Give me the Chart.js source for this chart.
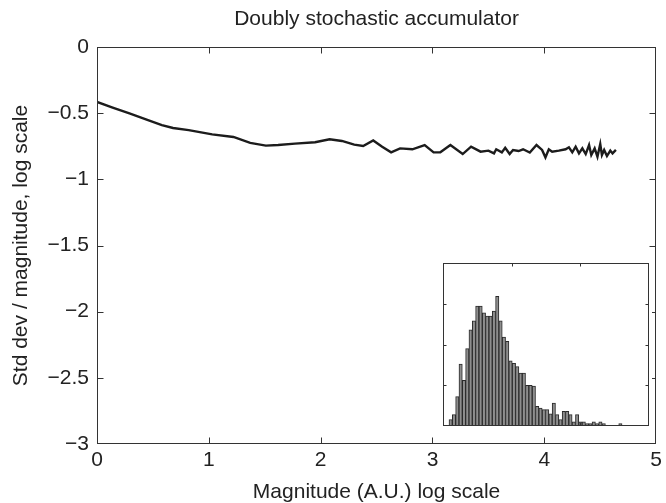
<!DOCTYPE html>
<html>
<head>
<meta charset="utf-8">
<script src="https://cdn.jsdelivr.net/npm/chart.js@4.4.0/dist/chart.umd.min.js"></script>
<style>
  html, body { margin: 0; padding: 0; background: #fff; }
  #wrap  { position: relative; width: 666px; height: 503px; }
  #main  { position: absolute; left: 0; top: 0; }
  #inset { position: absolute; left: 440px; top: 260px; background: #fff; }
</style>
</head>
<body>
<div id="wrap">
  <canvas id="main" width="666" height="503"></canvas>
  <canvas id="inset" width="212" height="169"></canvas>
</div>
<script>
// ═══════════════════════════════════════
//  DONNÉES
// ═══════════════════════════════════════

const magX = [0, 0.14, 0.29, 0.45, 0.58, 0.68, 0.82, 1.03, 1.22, 1.37, 1.51, 1.62, 1.77, 1.95,
  2.08, 2.19, 2.30, 2.38, 2.47, 2.55, 2.63, 2.71, 2.82, 2.93, 3.01, 3.07, 3.16, 3.27, 3.345,
  3.43, 3.50, 3.55, 3.57, 3.62, 3.65, 3.69, 3.72, 3.77, 3.81, 3.87, 3.93, 3.98, 4.01, 4.04,
  4.07, 4.13, 4.19, 4.22, 4.25, 4.28, 4.31, 4.34, 4.37, 4.40, 4.42, 4.45, 4.475, 4.50, 4.515,
  4.535, 4.56, 4.59, 4.61, 4.64];

const stdDev = [-0.415, -0.458, -0.501, -0.55, -0.59, -0.612, -0.628, -0.66, -0.68, -0.725,
  -0.745, -0.741, -0.73, -0.72, -0.697, -0.71, -0.738, -0.748, -0.706, -0.753, -0.796, -0.766,
  -0.773, -0.741, -0.796, -0.796, -0.741, -0.809, -0.753, -0.791, -0.783, -0.804, -0.773,
  -0.796, -0.761, -0.809, -0.778, -0.786, -0.773, -0.798, -0.741, -0.778, -0.834, -0.773,
  -0.791, -0.783, -0.773, -0.758, -0.796, -0.753, -0.804, -0.766, -0.809, -0.741, -0.816,
  -0.766, -0.829, -0.733, -0.816, -0.778, -0.824, -0.783, -0.804, -0.778];

// histogramme de l'encart (comptes par classe)
const histCounts = [8, 14, 36, 76, 56, 95, 118, 129, 147, 147, 139, 135, 135, 141, 159, 129,
  109, 104, 80, 77, 73, 65, 65, 50, 50, 49, 24, 22, 20, 20, 15, 28, 14, 8, 18, 18, 14, 5, 14,
  5, 5, 3, 3, 5, 3, 5, 3, 0, 0, 0, 0, 3];
const histFirstBin = 1.8;      // bord gauche de la première classe
const insetXMax    = 61.9;
const insetYMax    = 200;
const insetXTicks  = [20.6, 41.3];
const insetYTicks  = [50, 100, 150];

const FONT  = "'Liberation Sans', Arial, sans-serif";
const INK   = '#222';
const FRAME = '#333';

// ═══════════════════════════════════════
//  CADRE + GRADUATIONS INTÉRIEURES
// ═══════════════════════════════════════

const frameTicks = {
  id: 'frameTicks',
  afterDraw(chart, args, opts) {
    const { ctx, chartArea: a, scales } = chart;
    const L = Math.round(a.left) + 0.5, R = Math.round(a.right) - 0.5;
    const T = Math.round(a.top) + 0.5,  B = Math.round(a.bottom) - 0.5;
    const xs = opts.xTicks || scales.x.ticks.map(t => t.value);
    const ys = opts.yTicks || scales.y.ticks.map(t => t.value);
    const len = opts.len;

    ctx.save();
    ctx.strokeStyle = opts.color;
    ctx.lineWidth = 1;
    ctx.strokeRect(L, T, R - L, B - T);
    ctx.beginPath();
    xs.forEach(v => {
      if (v <= scales.x.min || v >= scales.x.max) return;
      const px = Math.round(scales.x.getPixelForValue(v)) + 0.5;
      ctx.moveTo(px, B); ctx.lineTo(px, B - len);
      ctx.moveTo(px, T); ctx.lineTo(px, T + len);
    });
    ys.forEach(v => {
      if (v <= scales.y.min || v >= scales.y.max) return;
      const py = Math.round(scales.y.getPixelForValue(v)) + 0.5;
      ctx.moveTo(L, py); ctx.lineTo(L + len, py);
      ctx.moveTo(R, py); ctx.lineTo(R - len, py);
    });
    ctx.stroke();
    ctx.restore();
  }
};

const minus = v => (v < 0 ? '\u2212' : '') + Math.abs(v);

// ═══════════════════════════════════════
//  GRAPHE PRINCIPAL
// ═══════════════════════════════════════

new Chart(document.getElementById('main'), {
  type: 'line',
  data: {
    datasets: [{
      data: magX.map((x, i) => ({ x, y: stdDev[i] })),
      borderColor: '#1c1c1c',
      borderWidth: 2.4,
      pointRadius: 0,
      tension: 0,
      fill: false
    }]
  },
  options: {
    responsive: false,
    animation: false,
    devicePixelRatio: 1,
    layout: { padding: { left: 0, right: 6, top: 0, bottom: 0 } },
    plugins: {
      legend:  { display: false },
      tooltip: { enabled: false },
      title: {
        display: true,
        fullSize: false,
        text: 'Doubly stochastic accumulator',
        color: INK,
        font: { family: FONT, size: 21, weight: 'normal', lineHeight: 1.2 },
        padding: { top: 6.8, bottom: 15 }
      },
      frameTicks: { color: FRAME, len: 6 }
    },
    scales: {
      x: {
        type: 'linear',
        min: 0, max: 5,
        ticks: { stepSize: 1, padding: 4, autoSkip: false, maxRotation: 0,
                 color: INK, font: { family: FONT, size: 21 }, callback: minus },
        grid:   { display: false, drawTicks: false },
        border: { display: false },
        title: {
          display: true, text: 'Magnitude (A.U.) log scale', color: INK,
          font: { family: FONT, size: 21, lineHeight: 1 }, padding: { top: 0, bottom: 0.3 }
        },
        afterFit(s) { s.height = 59; }
      },
      y: {
        min: -3, max: 0,
        ticks: { stepSize: 0.5, padding: 8, autoSkip: false,
                 color: INK, font: { family: FONT, size: 21 }, callback: minus },
        grid:   { display: false, drawTicks: false },
        border: { display: false },
        title: {
          display: true, text: 'Std dev / magnitude, log scale', color: INK,
          font: { family: FONT, size: 21, lineHeight: 1.2 }, padding: { top: 9, bottom: 0 }
        },
        afterFit(s) { s.width = 97; }
      }
    }
  },
  plugins: [frameTicks]
});

// ═══════════════════════════════════════
//  ENCART — HISTOGRAMME
// ═══════════════════════════════════════

new Chart(document.getElementById('inset'), {
  type: 'bar',
  data: {
    datasets: [{
      data: histCounts.map((c, i) => ({ x: histFirstBin + i + 0.5, y: c })),
      backgroundColor: '#8e8e8e',
      borderColor: '#2a2a2a',
      borderWidth: 1,
      barPercentage: 1,
      categoryPercentage: 1
    }]
  },
  options: {
    responsive: false,
    animation: false,
    devicePixelRatio: 1,
    layout: { padding: { left: 3, right: 3, top: 3, bottom: 3 } },
    plugins: {
      legend:  { display: false },
      tooltip: { enabled: false },
      frameTicks: { color: FRAME, len: 3, xTicks: insetXTicks, yTicks: insetYTicks }
    },
    scales: {
      x: { type: 'linear', min: 0, max: insetXMax, offset: false, display: false },
      y: { min: 0, max: insetYMax, display: false }
    }
  },
  plugins: [frameTicks]
});
</script>
</body>
</html>
